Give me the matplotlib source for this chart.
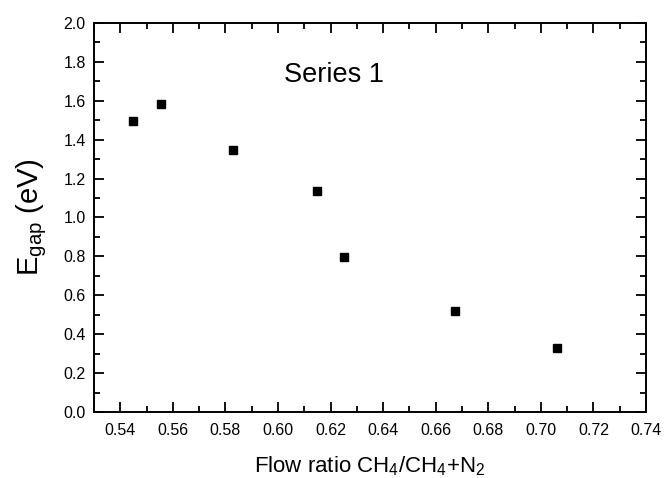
import matplotlib
matplotlib.use("Agg")
import matplotlib.pyplot as plt
from matplotlib.ticker import MultipleLocator

plt.rcParams["font.family"] = ["Liberation Sans", "DejaVu Sans"]
plt.rcParams["mathtext.fontset"] = "custom"
plt.rcParams["mathtext.rm"] = "Liberation Sans"
plt.rcParams["mathtext.it"] = "Liberation Sans"

# values
flow_ratio = [0.5447, 0.5556, 0.5828, 0.6149, 0.6251, 0.6672, 0.7062]
e_gap = [1.496, 1.585, 1.347, 1.136, 0.798, 0.519, 0.329]
series_label = "Series 1"

fig = plt.figure(figsize=(6.65, 4.78), dpi=100)
ax = fig.add_axes([0.1414, 0.1381, 0.8300, 0.8138])

ax.plot(flow_ratio, e_gap, linestyle="none", marker="s", markersize=6.3,
        color="black")

ax.set_xlim(0.53, 0.74)
ax.set_ylim(0.0, 2.0)
ax.xaxis.set_major_locator(MultipleLocator(0.02))
ax.xaxis.set_minor_locator(MultipleLocator(0.01))
ax.yaxis.set_major_locator(MultipleLocator(0.2))
ax.yaxis.set_minor_locator(MultipleLocator(0.1))
ax.xaxis.set_major_formatter(plt.FormatStrFormatter("%.2f"))
ax.yaxis.set_major_formatter(plt.FormatStrFormatter("%.1f"))

ax.tick_params(which="both", direction="in", top=True, right=True,
               width=1.3, labelsize=11.5)
ax.tick_params(axis="x", pad=8)
ax.tick_params(axis="y", pad=6)
ax.tick_params(which="major", length=7)
ax.tick_params(which="minor", length=4)
for spine in ax.spines.values():
    spine.set_linewidth(1.4)

ax.set_xlabel(r"Flow ratio CH$_4$/CH$_4$+N$_2$", fontsize=16, labelpad=12)
ax.set_ylabel(r"E$_{\mathrm{gap}}$ (eV)", fontsize=21, labelpad=10)

ax.text(0.435, 0.866, series_label, transform=ax.transAxes, ha="center",
        va="center", fontsize=19.5)

fig.savefig("out.png", dpi=100)
